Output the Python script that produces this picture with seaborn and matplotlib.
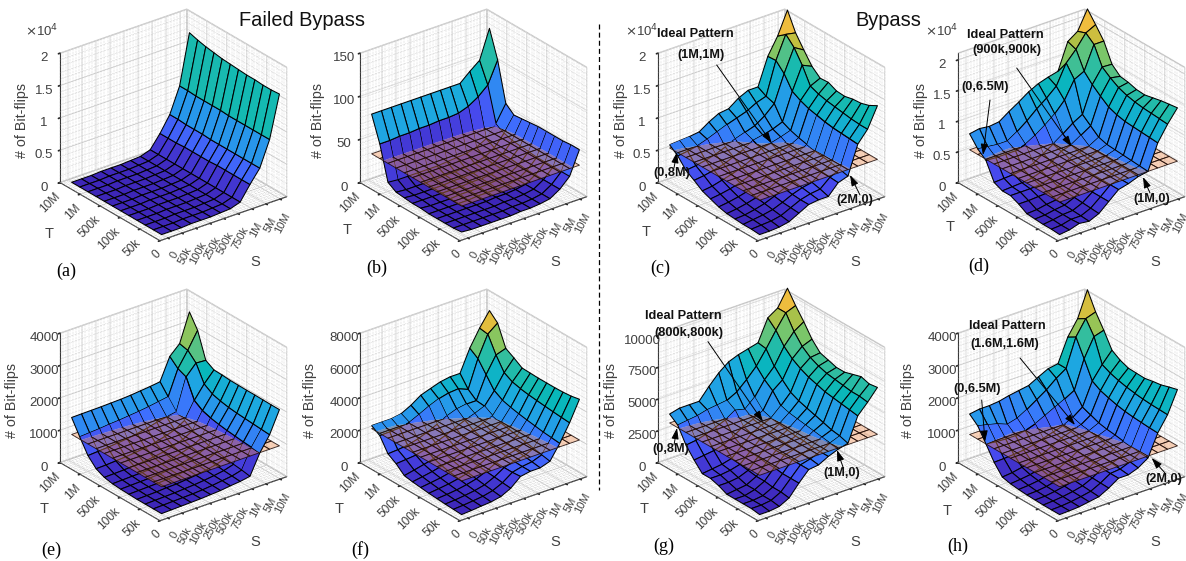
import numpy as np
import matplotlib
matplotlib.use("Agg")
import matplotlib.pyplot as plt
import seaborn as sns
from matplotlib.transforms import Affine2D
from mpl_toolkits.mplot3d import proj3d
from mpl_toolkits.mplot3d.art3d import Poly3DCollection, Line3DCollection

S_LABELS = ["0", "50k", "100k", "250k", "500k", "750k", "1M", "5M", "10M"]
T_LABELS = ["0", "50k", "100k", "500k", "1M", "10M"]

# rows: T index (front to back); columns: S index. Values in flips.
A = np.array([
 [0,0,0,1,1,1,2,3,8,30,50,89,154],[0,0,0,1,1,1,2,3,8,30,50,89,153],[0,0,0,1,1,1,2,3,8,30,50,89,153],
 [0,0,0,1,1,1,2,3,8,30,50,89,154],[0,0,0,1,1,1,2,3,8,30,50,89,154],[0,0,0,1,1,1,2,3,8,29,50,89,155],
 [0,0,0,1,1,1,2,3,8,29,50,90,156],[0,0,0,1,1,1,2,3,8,29,51,90,157],[0,0,0,1,1,1,2,3,8,29,51,90,159],
 [0,0,0,1,1,1,2,3,8,28,51,90,161],[0,0,0,1,1,1,2,3,8,28,52,91,164],[0,0,0,1,1,1,2,3,8,28,52,91,168]])*100
B = np.array([
 [3,2,2,2,2,2,3,3,4,6,13,24,51],[2,2,2,2,2,2,3,3,4,6,13,24,51],[2,2,2,2,2,2,3,3,4,6,13,24,50],
 [2,2,2,2,2,2,3,3,4,6,13,24,50],[2,2,2,2,2,3,3,3,4,6,13,24,50],[3,2,2,2,3,3,3,4,5,7,14,25,50],
 [3,3,3,3,3,3,4,4,5,8,15,26,49],[4,3,3,3,3,4,4,5,6,8,15,27,48],[5,4,4,4,4,5,5,6,7,10,17,30,47],
 [11,10,10,10,10,10,11,12,13,16,22,36,55],[50,50,51,51,52,52,53,53,54,58,65,75,100],
 [79,79,79,79,79,79,79,79,79,79,89,98,131]])
C = np.array([
 [0,0,1,4,12,20,22,22,38,43,87,105,136],[1,2,3,6,13,20,24,26,39,46,88,105,129],[1,3,5,8,14,21,26,29,40,48,89,106,125],
 [2,3,6,10,16,23,28,31,42,50,90,108,124],[3,5,8,12,18,25,30,34,44,52,92,110,121],[6,8,11,15,21,28,33,37,47,55,95,112,122],
 [11,13,16,20,26,32,43,47,50,58,98,115,128],[16,18,22,26,31,38,50,53,57,62,103,120,127],[25,27,30,34,40,46,55,58,62,68,110,145,138],
 [33,35,38,42,48,55,60,65,75,89,130,165,156],[48,50,53,58,64,70,75,80,88,93,143,178,175],[58,59,60,62,72,80,82,93,100,100,142,168,203]])*100
D = np.array([
 [0,2,7,5,12,26,40,44,50,53,94,119,140],[1,2,6,6,13,26,40,44,51,54,95,120,138],[1,3,6,7,14,26,40,44,51,55,96,121,136],
 [2,3,6,8,15,27,40,45,51,56,97,122,133],[3,4,7,9,16,28,41,46,52,57,98,124,130],[11,11,12,13,18,29,42,47,52,58,101,127,131],
 [17,17,17,18,22,32,44,49,53,62,106,132,135],[17,18,19,21,26,36,48,53,63,73,116,140,137],[23,24,25,27,32,42,52,63,75,84,127,150,149],
 [51,50,50,50,55,64,75,88,105,133,141,179,179],[62,60,58,58,68,80,94,106,120,152,169,190,198],[79,82,80,82,93,103,114,122,127,131,174,185,216]])*100
E = np.array([
 [30,40,50,60,70,90,110,150,180,235,850,1310,1980],[30,40,50,60,70,90,120,160,200,280,880,1330,1980],
 [30,40,50,60,80,100,130,170,220,310,900,1350,1985],[30,40,50,70,80,110,140,190,250,350,930,1370,1990],
 [40,50,60,70,90,120,160,210,280,400,960,1390,1990],[50,60,70,80,100,130,180,240,320,450,1000,1420,1995],
 [70,80,90,100,120,160,210,280,370,520,1050,1470,2000],[120,130,140,160,180,220,270,350,450,620,1130,1540,2020],
 [240,250,270,290,320,360,420,500,600,780,1300,1700,2030],[500,520,540,570,600,650,710,790,850,900,1880,2200,2180],
 [930,950,970,1000,1020,1050,1080,1120,1170,1220,1990,2450,2960],[1385,1390,1395,1400,1410,1420,1440,1470,1500,1540,2220,2510,3385]])
F = np.array([
 [0,40,100,150,270,570,1090,1200,1200,1400,2300,3360,4600],[30,70,130,200,340,620,1050,1200,1280,1500,2350,3400,4500],
 [60,100,170,260,400,680,1050,1230,1350,1600,2400,3450,4450],[100,150,220,330,480,730,1050,1270,1420,1700,2480,3500,4430],
 [140,210,290,410,560,790,1100,1330,1500,1800,2560,3560,4430],[200,280,370,500,650,870,1170,1410,1600,1900,2650,3620,4430],
 [260,360,470,610,780,1000,1290,1530,1730,2000,2760,3700,4450],[350,480,620,770,950,1180,1460,1700,1900,2150,2900,3820,4470],
 [790,840,900,1050,1250,1480,1750,2000,2200,2450,3200,4100,4800],[1110,1150,1220,1380,1600,1880,2180,2400,2500,2500,3900,4900,5100],
 [1940,1960,1990,2120,2400,2700,2950,3100,3150,2900,4600,5900,6370],[2270,2270,2270,2370,2680,3090,3300,3500,3600,3600,4950,5980,6850]])
G = np.array([
 [0,0,1,5,14,22,23,27,30,32,51,59,68],[1,1,2,6,14,22,24,27,31,34,52,60,67],[1,1,2,6,14,22,24,27,32,35,53,60,69],
 [1,1,3,7,15,22,24,28,33,37,54,61,67],[1,2,3,7,15,22,25,28,34,39,55,62,65],[4,4,5,8,16,23,25,29,35,41,57,63,65],
 [6,6,7,9,16,23,26,30,36,43,59,65,67],[6,7,8,10,17,24,28,31,38,46,62,68,69],[13,14,15,17,21,26,29,33,46,52,66,73,76],
 [21,22,24,27,30,35,33,40,51,59,72,81,86],[33,34,35,37,38,39,43,50,58,69,81,92,95],[38,40,40,40,49,57,63,66,68,70,87,92,105]])*100
H = np.array([
 [0,1,3,8,13,29,49,49,60,80,147,193,260],[0,1,4,9,15,30,49,52,64,82,148,194,253],[0,2,5,10,17,31,50,55,68,85,150,195,245],
 [1,2,6,12,19,33,52,58,72,88,152,197,241],[2,3,7,14,22,36,55,62,77,92,155,200,236],[4,6,10,17,26,40,59,67,83,95,160,204,237],
 [7,10,14,22,32,46,65,74,86,100,167,210,238],[13,16,22,30,40,55,70,80,90,110,175,218,248],[44,45,47,50,56,65,74,83,98,120,190,230,264],
 [86,82,80,80,85,95,110,125,140,157,244,302,311],[127,120,112,100,108,125,145,165,190,210,297,343,353],[149,154,154,157,164,169,174,190,205,210,282,328,407]])*10

# name, values, threshold plane, z limit, z ticks, z tick labels
PANELS = [
 ("(a)", A, None, 20000, [0,5000,10000,15000,20000], ["0","0.5","1","1.5","2"]),
 ("(b)", B, 33, 150, [0,50,100,150], ["0","50","100","150"]),
 ("(c)", C, 5300, 20000, [0,5000,10000,15000,20000], ["0","0.5","1","1.5","2"]),
 ("(d)", D, 5300, 21100, [0,5000,10000,15000,20000], ["0","0.5","1","1.5","2"]),
 ("(e)", E, 860, 4000, [0,1000,2000,3000,4000], ["0","1000","2000","3000","4000"]),
 ("(f)", F, 2080, 8000, [0,2000,4000,6000,8000], ["0","2000","4000","6000","8000"]),
 ("(g)", G, 3100, 10200, [0,2500,5000,7500,10000], ["0","2500","5000","7500","10000"]),
 ("(h)", H, 860, 4000, [0,1000,2000,3000,4000], ["0","1000","2000","3000","4000"]),
]
ORIGIN = [(0,0),(300,0),(600,0),(900,0),(0,280),(300,280),(600,280),(900,280)]
SHIFT = [0,0,-2,-2,0,0,-2,-2]
ZLAB_X = [65,55,62,62,35,30,33,25]
T_POS = [(148,703),(142,690),(138,695),(150,680),(132,688),(117,688),(132,688),(140,692)]
S_POS = [(765,785)]*8
P_POS = [(200,815),(230,805),(182,805),(237,800),(153,812),(180,810),(192,800),(172,800)]

ANNOT = [  # text, text centre, arrow start, arrow end
 ("Ideal Pattern",(695,34),None,None),("(1M,1M)",(700.7,55),(716.7,65),(771.7,143)),
 ("(0,8M)",(671.7,173),(674,168),(677,152)),("(2M,0)",(855,200),(860,195),(850,175)),
 ("Ideal Pattern",(1005,35),None,None),("(900k,900k)",(1007,50),(1016.7,68),(1071.7,146.7)),
 ("(0,6.5M)",(985,87),(990,100),(983,155)),("(1M,0)",(1151.7,199),(1150,193),(1143,177)),
 ("Ideal Pattern",(683,315.7),None,None),("(800k,800k)",(689,332.7),(708,341.7),(763,421.7)),
 ("(0,8M)",(670.7,449),(674,445),(677,428)),("(1M,0)",(842,473),(843,467),(837,450)),
 ("Ideal Pattern",(1007.7,325.7),None,None),("(1.6M,1.6M)",(1005,344),(1020,358),(1075,425)),
 ("(0,6.5M)",(976.7,389),(981.7,400),(985,441.7)),("(2M,0)",(1164,479),(1165,473),(1151.7,458)),
]

W, Hpx = 1186, 561
sns.set_theme(style="white")
plt.rcParams["font.family"] = ["Liberation Sans", "DejaVu Sans"]
GREY = "#404040"
parula = sns.blend_palette([(0.240,0.150,0.720),(0.280,0.278,0.922),(0.244,0.436,0.999),(0.154,0.590,0.922),
    (0.108,0.667,0.873),(0.030,0.717,0.730),(0.200,0.745,0.620),(0.500,0.780,0.400),(0.720,0.750,0.250),
    (0.990,0.740,0.240),(0.976,0.984,0.080)], n_colors=256, as_cmap=True)

fig = plt.figure(figsize=(W/100, Hpx/100), dpi=100, facecolor="white")
to_px = Affine2D().scale(1, -1).translate(0, Hpx)


def clip_poly(pts, level, keep_below):
    out = []
    n = len(pts)
    for k in range(n):
        p, q = pts[k], pts[(k+1) % n]
        pin = p[2] <= level if keep_below else p[2] >= level
        qin = q[2] <= level if keep_below else q[2] >= level
        if pin:
            out.append(p)
        if pin != qin:
            t = (level-p[2])/(q[2]-p[2])
            out.append(tuple(p[c]+t*(q[c]-p[c]) for c in range(3)))
    return out


def layer(ax, Z, level, keep_below, norm, zorder):
    verts, fc, ec = [], [], []
    none = (0, 0, 0, 0)
    line = (0, 0, 0, 1)
    nr, nc = Z.shape
    for r in range(nr-1):
        for c in range(nc-1):
            quad = [(c, r, Z[r, c]), (c+1, r, Z[r, c+1]), (c+1, r+1, Z[r+1, c+1]), (c, r+1, Z[r+1, c])]
            col = parula(norm(Z[r, c]))
            zs = [p[2] for p in quad]
            if level is None or max(zs) <= level or min(zs) >= level:
                inside = level is None or (max(zs) <= level if keep_below else min(zs) >= level)
                if inside:
                    verts.append(quad); fc.append(col); ec.append(line)
                continue
            part = clip_poly(quad, level, keep_below)
            if len(part) >= 3:
                verts.append(part); fc.append(col); ec.append(none)
            for k in range(4):
                seg = None
                p, q = quad[k], quad[(k+1) % 4]
                pin = p[2] <= level if keep_below else p[2] >= level
                qin = q[2] <= level if keep_below else q[2] >= level
                if pin and qin:
                    seg = [p, q]
                elif pin != qin:
                    t = (level-p[2])/(q[2]-p[2])
                    m = tuple(p[i]+t*(q[i]-p[i]) for i in range(3))
                    seg = [p, m] if pin else [m, q]
                if seg:
                    verts.append(seg); fc.append(none); ec.append(line)
    if verts:
        pc = Poly3DCollection(verts, facecolors=fc, edgecolors=ec, linewidths=0.75, zorder=zorder)
        ax.add_collection3d(pc, autolim=False)


def walls(ax, xl, yl, zmax):
    segs = []
    xs = np.linspace(xl[0], xl[1], 41)
    ys = np.linspace(yl[0], yl[1], 41)
    zs = np.linspace(0, zmax, 21)
    for x in xs:
        segs.append([(x, yl[1], 0), (x, yl[1], zmax)])
        segs.append([(x, yl[0], 0), (x, yl[1], 0)])
    for y in ys:
        segs.append([(xl[1], y, 0), (xl[1], y, zmax)])
        segs.append([(xl[0], y, 0), (xl[1], y, 0)])
    for z in zs:
        segs.append([(xl[0], yl[1], z), (xl[1], yl[1], z)])
        segs.append([(xl[1], yl[0], z), (xl[1], yl[1], z)])
    ax.add_collection3d(Line3DCollection(segs, colors="#a8a8a8", linewidths=0.35, linestyles=(0, (1, 2)), zorder=0), autolim=False)


def fit(ax, left, right, front_y, xl, yl, aspect):
    zoom = 1.0
    for _ in range(3):
        ax.set_box_aspect(aspect, zoom=zoom)
        ax.apply_aspect()
        M = ax.get_proj()
        def pt(x, y):
            X, Y, _z = proj3d.proj_transform(x, y, 0, M)
            return ax.transData.transform((X, Y))
        pl, pr = pt(xl[0], yl[1]), pt(xl[1], yl[0])
        zoom *= (right-left)/(pr[0]-pl[0])
    ax.set_box_aspect(aspect, zoom=zoom)
    ax.apply_aspect()
    M = ax.get_proj()
    X, Y, _z = proj3d.proj_transform(xl[0], yl[1], 0, M)
    pl = ax.transData.transform((X, Y))
    X, Y, _z = proj3d.proj_transform(xl[0], yl[0], 0, M)
    pf = ax.transData.transform((X, Y))
    b = ax.get_position()
    dx = left-pl[0]
    dy = (Hpx-front_y)-pf[1]
    ax.set_position([b.x0+dx/W, b.y0+dy/Hpx, b.width, b.height])


xlim = (-0.774, 12.13)
ylim = (-0.733, 11.49)
for idx, (name, Z, plane, zmax, zt, ztl) in enumerate(PANELS):
    ox, oy = ORIGIN[idx]
    sh = SHIFT[idx]
    ax = fig.add_axes([(ox+sh-60)/W, (Hpx-oy-330)/Hpx, 420/W, 420/Hpx], projection="3d", computed_zorder=False)
    ax.patch.set_alpha(0)
    ax.set_proj_type("ortho")
    ax.view_init(elev=26.7, azim=-127.7)
    ax.set_xlim(xlim); ax.set_ylim(ylim); ax.set_zlim(0, zmax)
    norm = plt.Normalize(Z.min(), Z.max())

    ax.set_xticks(xlim[0] + np.linspace(0.063, 0.948, len(S_LABELS))*(xlim[1]-xlim[0]))
    ax.set_yticks(np.linspace(ylim[0], ylim[1], len(T_LABELS)))
    ax.set_zticks(zt)
    ax.set_xticklabels(S_LABELS, rotation=62, ha="right", va="center", rotation_mode="anchor", fontsize=8, color=GREY)
    ax.set_yticklabels(T_LABELS, rotation=45, ha="right", va="top", rotation_mode="anchor", fontsize=8.6, color=GREY)
    ax.set_zticklabels(ztl, fontsize=9.5, color=GREY)
    ax.tick_params(axis="x", pad=4)
    ax.tick_params(axis="y", pad=-1)
    ax.tick_params(axis="z", pad=3)
    for a in (ax.xaxis, ax.yaxis, ax.zaxis):
        a.set_pane_color((1, 1, 1, 1))
        a.pane.set_edgecolor("#d0d0d0")
        a._axinfo["grid"].update(color="#dcdcdc", linewidth=0.7)
        a._axinfo["tick"].update(inward_factor=0.15, outward_factor=0.0)
        a.line.set_color("#303030")
        a.line.set_linewidth(0.8)
    ax.grid(True)

    walls(ax, xlim, ylim, zmax)
    layer(ax, Z, plane, True, norm, 1)
    if plane is not None:
        nr, nc = Z.shape
        pverts = [[(c, r, plane), (c+1, r, plane), (c+1, r+1, plane), (c, r+1, plane)]
                  for r in range(nr-1) for c in range(nc-1)]
        ax.add_collection3d(Poly3DCollection(pverts, facecolors=(0.95, 0.57, 0.33, 0.4),
                            edgecolors=(0.1, 0.03, 0.02, 0.85), linewidths=0.65, zorder=2), autolim=False)
        layer(ax, Z, plane, False, norm, 3)

    fit(ax, ox+sh+60, ox+sh+286.7, oy+240.7, xlim, ylim, (480, 490, 434))

    ax.text2D(ox+ZLAB_X[idx]/3, oy+120, "# of Bit-flips", transform=to_px, rotation=90, ha="center", va="center", fontsize=10.3, color=GREY)
    ax.text2D(ox+T_POS[idx][0]/3, oy+T_POS[idx][1]/3, "T", transform=to_px, ha="center", va="center", fontsize=10.5, color=GREY)
    ax.text2D(ox+S_POS[idx][0]/3, oy+S_POS[idx][1]/3, "S", transform=to_px, ha="center", va="center", fontsize=10.5, color=GREY)
    ax.text2D(ox+P_POS[idx][0]/3, oy+P_POS[idx][1]/3, name, transform=to_px, ha="center", va="center", fontsize=13, color="black", family="Liberation Serif")
    if ztl[-1] == "2":
        ax.text2D(ox+125/3, oy+31, r"$\times$10$^4$", transform=to_px, ha="center", va="center", fontsize=9.5, color=GREY)

over = fig.add_axes([0, 0, 1, 1], zorder=50)
over.set_xlim(0, W); over.set_ylim(Hpx, 0); over.axis("off"); over.patch.set_alpha(0)
over.text(302, 20, "Failed Bypass", ha="center", va="center", fontsize=14.4, color="#111111")
over.text(888, 20, "Bypass", ha="center", va="center", fontsize=14.4, color="#111111")
over.plot([599, 599], [24, 490], color="black", lw=0.9, ls=(0, (4, 2.5)))
for txt, c, a0, a1 in ANNOT:
    if a0 is not None:
        over.annotate("", xy=a1, xytext=a0, arrowprops=dict(arrowstyle="-|>,head_width=0.18,head_length=0.55", color="black", lw=0.7, shrinkA=0, shrinkB=0))
    over.text(c[0], c[1], txt, ha="center", va="center", fontsize=9.2, fontweight="bold", color="#111111")

fig.savefig("out.png", dpi=100)
